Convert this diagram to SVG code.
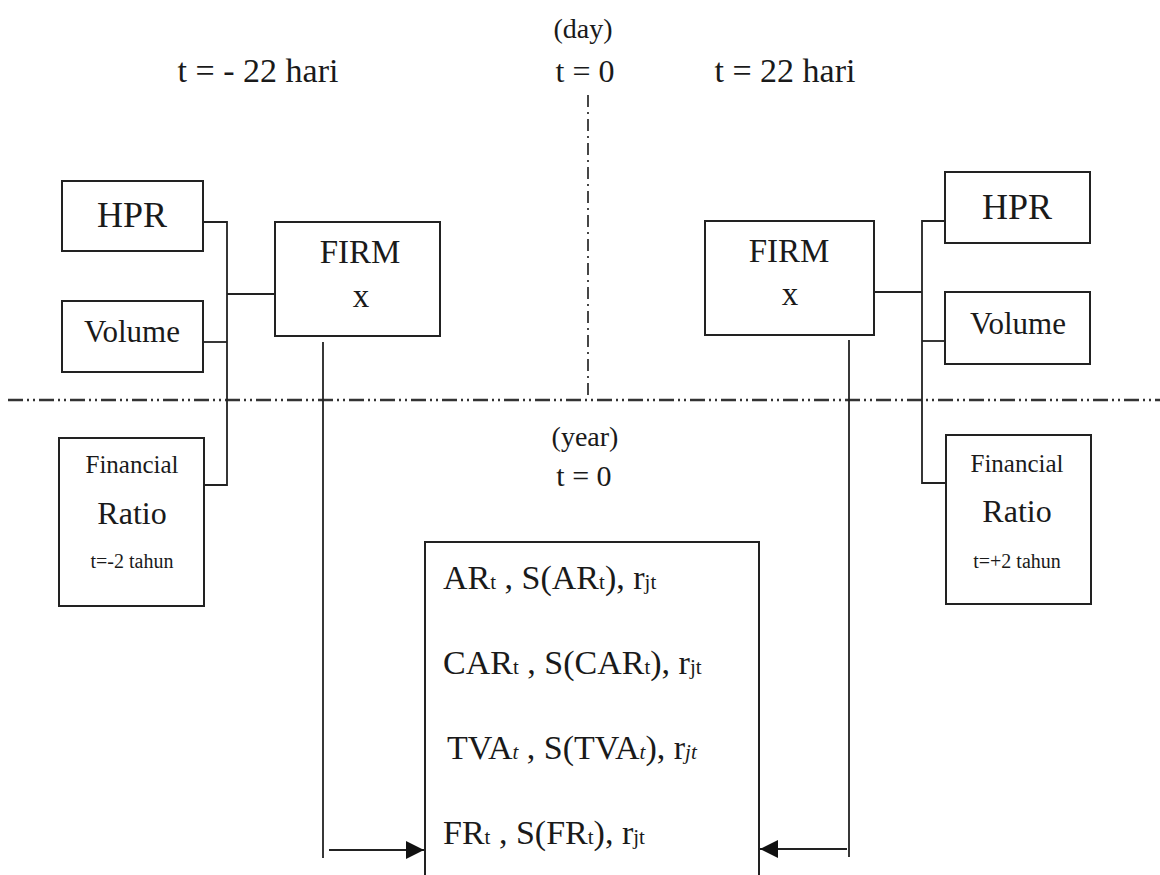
<svg xmlns="http://www.w3.org/2000/svg" width="1160" height="875" viewBox="0 0 1160 875">
<style>
text{font-family:"Liberation Serif","Times New Roman",serif;fill:#1a1a1a}
.box{fill:#fff;stroke:#222;stroke-width:2}
.ln{fill:none;stroke:#222;stroke-width:1.8}
.dd{fill:none;stroke:#333;stroke-width:2.4;stroke-dasharray:15 4 2 4 2 4}
.dv{fill:none;stroke:#333;stroke-width:1.8;stroke-dasharray:12 5 2 5}
.c{text-anchor:middle}
.sub{font-size:21px}
</style>
<defs>
<marker id="ah2" viewBox="0 0 10 10" refX="10" refY="5" markerWidth="22" markerHeight="18" markerUnits="userSpaceOnUse" orient="auto">
<path d="M0,0 L10,5 L0,10 z" fill="#111"/>
</marker>
</defs>

<g id="labels">
<text x="258" y="82" class="c" font-size="34">t = - 22 hari</text>
<text x="583" y="38" class="c" font-size="28">(day)</text>
<text x="585" y="82" class="c" font-size="32">t = 0</text>
<text x="785" y="82" class="c" font-size="34">t = 22 hari</text>
<text x="585" y="446" class="c" font-size="28">(year)</text>
<text x="584" y="486" class="c" font-size="30">t = 0</text>
</g>

<g id="connectors">
<line class="dd" x1="8" y1="400" x2="1160" y2="400"/>
<line class="dv" x1="588" y1="95" x2="588" y2="400"/>
<polyline class="ln" points="203,222 227,222 227,485 204,485"/>
<line class="ln" x1="203" y1="342" x2="227" y2="342"/>
<line class="ln" x1="227" y1="294" x2="275" y2="294"/>
<polyline class="ln" points="945,221 922,221 922,483 946,483"/>
<line class="ln" x1="922" y1="341" x2="945" y2="341"/>
<line class="ln" x1="874" y1="292" x2="922" y2="292"/>
<line class="ln" x1="323" y1="342" x2="323" y2="858"/>
<line class="ln" x1="849" y1="340" x2="849" y2="857"/>
<line class="ln" x1="329" y1="850" x2="424" y2="850" marker-end="url(#ah2)"/>
<line class="ln" x1="847" y1="849" x2="760" y2="849" marker-end="url(#ah2)"/>
</g>

<g id="hpr-left">
<rect class="box" x="62" y="181" width="141" height="70"/>
<text x="132" y="227" class="c" font-size="36">HPR</text>
</g>
<g id="volume-left">
<rect class="box" x="62" y="301" width="141" height="71"/>
<text x="132" y="342" class="c" font-size="31">Volume</text>
</g>
<g id="fr-left">
<rect class="box" x="59" y="438" width="145" height="168"/>
<text x="132" y="473" class="c" font-size="25">Financial</text>
<text x="132" y="524" class="c" font-size="32">Ratio</text>
<text x="132" y="568" class="c" font-size="20">t=-2 tahun</text>
</g>
<g id="firm-left">
<rect class="box" x="275" y="222" width="165" height="114"/>
<text x="360" y="263" class="c" font-size="33">FIRM</text>
<text x="361" y="307" class="c" font-size="33">x</text>
</g>

<g id="firm-right">
<rect class="box" x="705" y="221" width="169" height="114"/>
<text x="789" y="262" class="c" font-size="33">FIRM</text>
<text x="790" y="305" class="c" font-size="33">x</text>
</g>
<g id="hpr-right">
<rect class="box" x="945" y="172" width="145" height="71"/>
<text x="1017" y="219" class="c" font-size="36">HPR</text>
</g>
<g id="volume-right">
<rect class="box" x="945" y="292" width="145" height="72"/>
<text x="1018" y="334" class="c" font-size="31">Volume</text>
</g>
<g id="fr-right">
<rect class="box" x="946" y="435" width="145" height="169"/>
<text x="1017" y="472" class="c" font-size="25">Financial</text>
<text x="1017" y="522" class="c" font-size="32">Ratio</text>
<text x="1017" y="568" class="c" font-size="20">t=+2 tahun</text>
</g>

<g id="results">
<path class="box" d="M425,876 L425,542 L759,542 L759,876"/>
<text x="443" y="589" font-size="34">AR<tspan class="sub">t</tspan> , S(AR<tspan class="sub">t</tspan>), r<tspan class="sub">jt</tspan></text>
<text x="443" y="674" font-size="34">CAR<tspan class="sub">t</tspan> , S(CAR<tspan class="sub">t</tspan>), r<tspan class="sub">jt</tspan></text>
<text x="447" y="759" font-size="34">TVA<tspan class="sub" font-style="italic">t</tspan> , S(TVA<tspan class="sub" font-style="italic">t</tspan>), r<tspan class="sub" font-style="italic">jt</tspan></text>
<text x="443" y="844" font-size="34">FR<tspan class="sub">t</tspan> , S(FR<tspan class="sub">t</tspan>), r<tspan class="sub">jt</tspan></text>
</g>
</svg>
